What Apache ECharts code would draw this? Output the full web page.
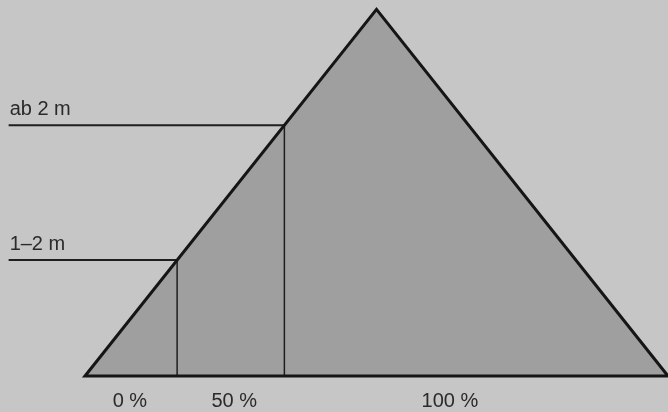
<!DOCTYPE html>
<html><head><meta charset="utf-8">
<script src="https://cdn.jsdelivr.net/npm/echarts@6/dist/echarts.min.js"></script>
<style>html,body{margin:0;padding:0;background:#c6c6c6}#c{width:668px;height:412px}</style>
</head><body><div id="c"></div>
<script>
// Triangle (pyramid) in data units: base from 0 to 100, apex at 50 / height 100
const trianglePoints = [[0, 0], [50, 100], [100, 0]];
// Height classes and the level (in % of pyramid height) where they start
const heightLabels = ['1–2 m', 'ab 2 m'];
const heightLevels = [31.6, 68.4];
// Share labels below the base and their x positions (data units)
const shareLabels = ['0 %', '50 %', '100 %'];
const shareLabelX = [7.7, 25.6, 62.6];
// where the leader lines for the height labels start (data units)
const leaderStartX = -13.1;

const chart = echarts.init(document.getElementById('c'), null, {renderer: 'canvas'});

function leftEdgeX(h) { // x of the left pyramid side at height h
  const a = trianglePoints[0], b = trianglePoints[1];
  return a[0] + (b[0] - a[0]) * (h - a[1]) / (b[1] - a[1]);
}

const font = '"Liberation Sans", Arial, Helvetica, sans-serif';
const textColor = '#2a2a2a';

chart.setOption({
  backgroundColor: '#c6c6c6',
  animation: false,
  grid: {left: 85, right: -3, top: 9.3, bottom: 36},
  xAxis: {type: 'value', min: 0, max: 100, show: false},
  yAxis: {type: 'value', min: 0, max: 100, show: false},
  series: [{
    type: 'custom',
    clip: false,
    data: [0],
    renderItem: function (params, api) {
      const pts = trianglePoints.map(p => api.coord(p));
      const children = [];
      children.push({type: 'polygon', shape: {points: pts},
        style: {fill: '#9f9f9f', stroke: null}});
      heightLevels.forEach((h, i) => {
        const ex = leftEdgeX(h);
        const top = api.coord([ex, h]);
        const bot = api.coord([ex, 0]);
        const start = api.coord([leaderStartX, h]);
        children.push({type: 'line', shape: {x1: bot[0], y1: bot[1], x2: top[0], y2: top[1]},
          style: {stroke: '#1e1e1e', lineWidth: 1.5}});
        children.push({type: 'line', shape: {x1: start[0], y1: start[1], x2: top[0], y2: top[1]},
          style: {stroke: '#1e1e1e', lineWidth: 2}});
        children.push({type: 'text', x: start[0] + 1, y: start[1] - 26,
          style: {text: heightLabels[i], fill: textColor, font: '20px ' + font,
            align: 'left', verticalAlign: 'top'}});
      });
      children.push({type: 'polygon', shape: {points: pts},
        style: {fill: null, stroke: '#151515', lineWidth: 3, lineJoin: 'miter'}});
      shareLabels.forEach((s, i) => {
        const p = api.coord([shareLabelX[i], 0]);
        children.push({type: 'text', x: p[0], y: p[1] + 15,
          style: {text: s, fill: textColor, font: '20px ' + font,
            align: 'center', verticalAlign: 'top'}});
      });
      return {type: 'group', children: children};
    }
  }]
});
</script>
</body></html>
